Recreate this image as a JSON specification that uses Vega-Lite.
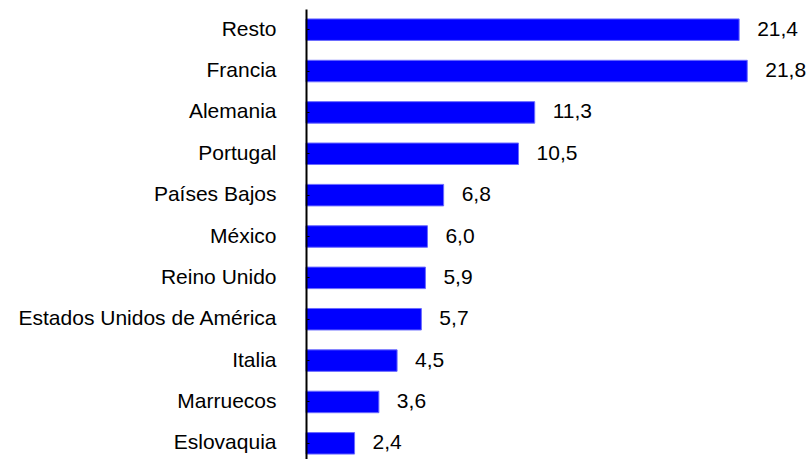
{
  "$schema": "https://vega.github.io/schema/vega-lite/v6.json",
  "width": 506,
  "height": 455,
  "autosize": {"type": "none"},
  "padding": {"left": 306, "top": 9, "right": 0, "bottom": 0},
  "config": {
    "view": {"stroke": null},
    "font": "Liberation Sans",
    "locale": {"number": {"decimal": ",", "thousands": ".", "grouping": [3], "currency": ["", " €"]}}
  },
  "data": {
    "values": [
      {"pais": "Resto", "valor": 21.4},
      {"pais": "Francia", "valor": 21.8},
      {"pais": "Alemania", "valor": 11.3},
      {"pais": "Portugal", "valor": 10.5},
      {"pais": "Países Bajos", "valor": 6.8},
      {"pais": "México", "valor": 6.0},
      {"pais": "Reino Unido", "valor": 5.9},
      {"pais": "Estados Unidos de América", "valor": 5.7},
      {"pais": "Italia", "valor": 4.5},
      {"pais": "Marruecos", "valor": 3.6},
      {"pais": "Eslovaquia", "valor": 2.4}
    ]
  },
  "encoding": {
    "y": {
      "field": "pais",
      "type": "nominal",
      "sort": null,
      "scale": {"paddingInner": 0.48, "paddingOuter": 0.24},
      "axis": {
        "title": null,
        "domainColor": "#000",
        "domainWidth": 2,
        "tickColor": "#000",
        "tickSize": -3,
        "tickWidth": 1,
        "labelFontSize": 21,
        "labelColor": "#000",
        "labelPadding": 33,
        "labelLimit": 0,
        "labelFont": "Liberation Sans",
        "zindex": 1
      }
    },
    "x": {
      "field": "valor",
      "type": "quantitative",
      "scale": {"domain": [0, 25], "nice": false},
      "axis": null
    }
  },
  "layer": [
    {
      "mark": {"type": "bar", "color": "#0000ff", "stroke": "#6a6aff", "strokeWidth": 1}
    },
    {
      "mark": {"type": "text", "align": "left", "baseline": "middle", "dx": 18, "fontSize": 21, "color": "#000", "font": "Liberation Sans"},
      "encoding": {"text": {"field": "valor", "type": "quantitative", "format": ".1f"}}
    }
  ]
}
